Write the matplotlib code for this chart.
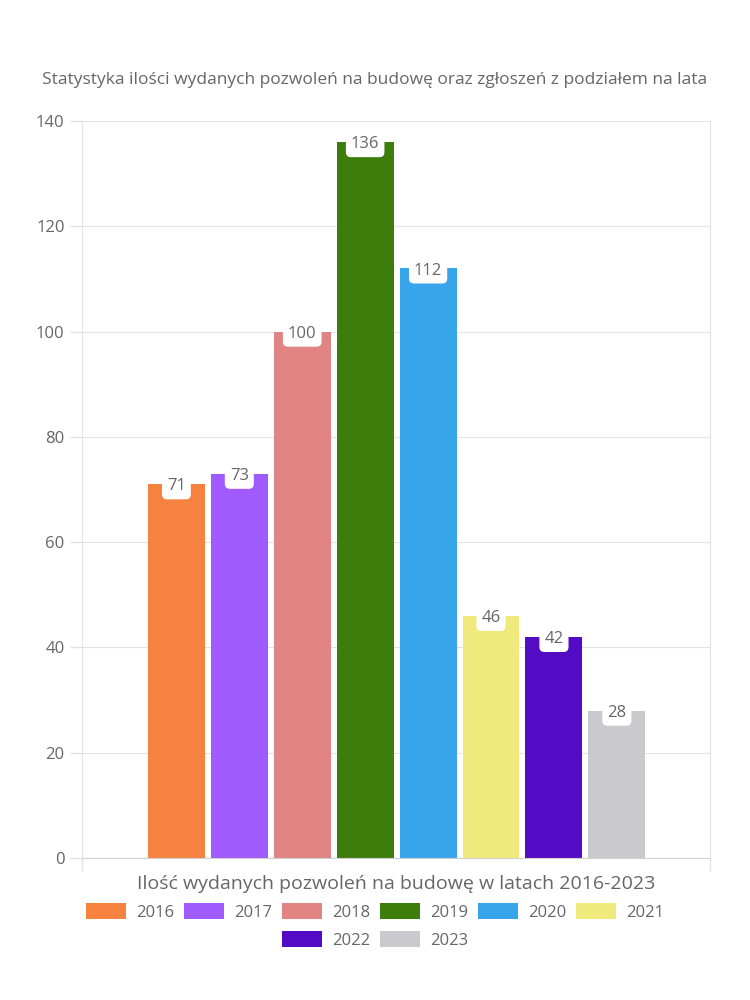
import matplotlib.pyplot as plt
from matplotlib.patches import Patch

lata = ["2016", "2017", "2018", "2019", "2020", "2021", "2022", "2023"]
pozwolenia = [71, 73, 100, 136, 112, 46, 42, 28]
kolory = ["#F5833F", "#A05BFE", "#E08484", "#3D7D0B", "#38A4EA", "#F0EA7C", "#530CC4", "#CACACE"]
ticki_y = [0, 20, 40, 60, 80, 100, 120, 140]

tytul = "Statystyka ilości wydanych pozwoleń na budowę oraz zgłoszeń z podziałem na lata"
opis_x = "Ilość wydanych pozwoleń na budowę w latach 2016-2023"

plt.rcParams["font.family"] = ["Open Sans", "DejaVu Sans"]
szary = "#666666"
linia = "#E3E3E3"

fig = plt.figure(figsize=(7.5, 10), dpi=100)
ax = fig.add_axes([82 / 750, 1 - 858 / 1000, 628 / 750, 737 / 1000])

xs = list(range(len(lata)))
ax.bar(xs, pozwolenia, width=0.905, color=kolory, zorder=2)

# etykiety wartości w białych ramkach na szczycie słupków
for x, v in zip(xs, pozwolenia):
    ax.text(x, v - 0.4, str(v), ha="center", va="center", fontsize=12, color=szary, zorder=3,
            bbox=dict(boxstyle="round,pad=0.3,rounding_size=0.3", fc="white", ec="none"))

ax.set_xlim(-1.5, 8.48)
ax.set_ylim(0, 140)
ax.set_yticks(ticki_y)
ax.set_xticks([-1.5, 8.48])
ax.set_xticklabels([])
ax.tick_params(axis="y", labelsize=12, labelcolor=szary, color=linia, length=9, width=1)
ax.tick_params(axis="x", color=linia, length=9, width=1)
ax.grid(axis="y", color=linia, linewidth=0.8, zorder=0)
for s in ["left", "right"]:
    ax.spines[s].set_color(linia)
ax.spines["top"].set_visible(False)
ax.spines["bottom"].set_color("#D0D0D0")

ax.set_xlabel(opis_x, fontsize=14, color=szary, labelpad=0)
fig.text(375 / 750, 1 - 80 / 1000, tytul, ha="center", va="center", fontsize=12.5, color=szary)

# legenda w dwóch wierszach (6 + 2), wyśrodkowana
uchwyty = [Patch(facecolor=k, label=r) for k, r in zip(kolory, lata)]
opcje = dict(frameon=False, fontsize=12, labelcolor=szary, handlelength=2.4, handleheight=1.05,
             columnspacing=0.6, handletextpad=0.6, borderpad=0)
fig.legend(handles=uchwyty[:6], loc="center", bbox_to_anchor=(0.5, 1 - 912 / 1000), ncol=6, **opcje)
fig.legend(handles=uchwyty[6:], loc="center", bbox_to_anchor=(0.5, 1 - 940 / 1000), ncol=2, **opcje)

plt.savefig("out.png")
